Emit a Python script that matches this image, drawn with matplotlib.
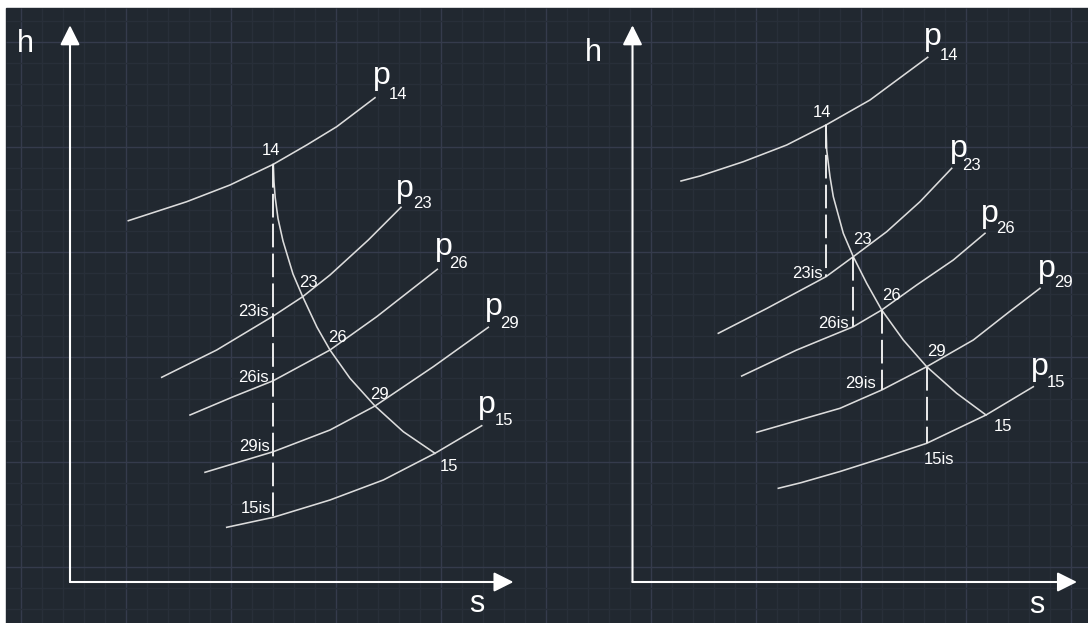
import matplotlib.pyplot as plt
import numpy as np
from matplotlib.patches import Rectangle

plt.rcParams['lines.scale_dashes'] = False

isobars = ['14', '23', '26', '29', '15']

# left diagram: one isentropic drop 14 -> 15is
L_p14_s = [58.3, 116.7, 160, 203.3, 236.7, 266.7, 305]
L_p14_h = [361.3, 380.3, 397, 417.7, 437, 455.3, 484.3]
L_p23_s = [91.7, 146.7, 203.3, 232.7, 260, 298.3, 331]
L_p23_h = [204.7, 232, 266, 285.3, 307, 342, 374.7]
L_p26_s = [120, 163.3, 203.3, 260, 306.7, 367.3]
L_p26_h = [167, 185.3, 201.3, 232, 265.3, 312.7]
L_p29_s = [135, 203.3, 260, 305, 363.3, 418.3]
L_p29_h = [109.7, 130.3, 152, 176, 215.3, 254.7]
L_p15_s = [156.7, 203.3, 260, 313.3, 365, 411.7]
L_p15_h = [54.7, 64.7, 82, 102, 128.7, 156.3]
L_proc_s = [203.3, 204, 205.2, 208, 213, 223, 232.7, 247, 260, 280, 305, 333.3, 365]
L_proc_h = [417.7, 400, 384.5, 363.5, 341, 308, 285.3, 254.8, 232, 203.7, 176, 150.3, 128.7]
L_dash_s = [203.3]
L_dash_top = [417.7]
L_dash_bot = [64.7]

# right diagram: stage by stage
R_p14_s = [48.5, 67.5, 110.8, 154.2, 193.5, 237.5, 295.2]
R_p14_h = [401, 406, 420.3, 437, 457, 482, 524.7]
R_p23_s = [85.8, 134.2, 193.5, 220.8, 254.2, 287.5, 319.2]
R_p23_h = [248.7, 273.5, 305.3, 325.3, 350.3, 380.3, 413.7]
R_p26_s = [109.2, 164.2, 220.8, 249.2, 284.2, 320.8, 352.5]
R_p26_h = [206, 232, 255.3, 272, 297, 322, 348.7]
R_p29_s = [124.2, 207.5, 249.2, 294.2, 340.8, 376.5, 407.5]
R_p29_h = [149.7, 173.7, 192, 215.3, 242, 270, 293.7]
R_p15_s = [145.8, 168.5, 207.5, 250, 294.2, 353.5, 400.8]
R_p15_h = [93.7, 99.3, 110.5, 124, 138.7, 167, 195.3]
R_proc_s = [193.5, 194.2, 197.5, 200.8, 210.8, 220.8, 234.2, 249.2, 270.8, 294.2, 324.2, 353.5]
R_proc_h = [457, 432, 405.3, 385.3, 348.7, 325.3, 298.7, 272, 242, 215.3, 188.7, 167]
R_dash_s = [193.5, 220.8, 249.2, 294.2]
R_dash_top = [457, 325.3, 272, 215.3]
R_dash_bot = [305.3, 255.3, 192, 138.7]

# point labels
pt_text = ['14', '23', '26', '29', '15', '23is', '26is', '29is', '15is']
L_pt_s = [201, 229, 258, 300, 370, 199, 199, 200, 201]
L_pt_h = [427, 295.3, 240.3, 182.7, 111.3, 266, 200.3, 131.3, 69.3]
L_pt_ha = ['center', 'left', 'left', 'left', 'left', 'right', 'right', 'right', 'right']
R_pt_s = [189.5, 220.8, 249.2, 294.2, 360.8, 190.2, 216.5, 243.5, 291.5]
R_pt_h = [465.3, 338, 282, 226, 151.3, 303.7, 253.7, 193.7, 118]
R_pt_ha = ['center', 'left', 'left', 'left', 'left', 'right', 'right', 'right', 'left']

# isobar labels p + subscript
L_p_s = [303, 326, 365, 414.7, 408]
L_p_h = [498.4, 385.4, 327.4, 267, 168.7]
L_sub_s = [319, 343, 379, 430, 424.5]
L_sub_h = [483, 374, 314, 253.7, 157]
R_p_s = [291.5, 317.2, 348.8, 405.5, 398.8]
R_p_h = [537.4, 425.4, 360.4, 305.4, 207]
R_sub_s = [307, 330, 364, 422, 414]
R_sub_h = [522, 412, 349.3, 295, 194.7]

# axes arrows and their letters
s_axis_len = [443.5, 444.5]
h_axis_len = [556.7, 556.7]
h_lab_pos = [(-45, 538), (-39.5, 529)]
s_lab_pos = [(407, -22), (404.5, -23)]
origin_px = [70, 632.5]

W, H = 1088, 623
y0 = 582
bg = '#212830'
line_c = '#dcdcdc'
font = 'Liberation Sans'

fig = plt.figure(figsize=(W / 100, H / 100), dpi=100, facecolor='white')

# CAD style background with grid
axb = fig.add_axes([0, 0, 1, 1])
axb.set_xlim(0, W)
axb.set_ylim(H, 0)
axb.axis('off')
axb.add_patch(Rectangle((6, 8), W - 6, H - 8, color=bg, zorder=0))
gx = np.arange(20.7, W, 21)
gy = np.arange(20.7, H, 21)
for i, x in enumerate(gx):
    axb.vlines(x, 8, H, color='#353b4c' if i % 5 == 0 else '#282f39', lw=1, zorder=1)
for i, y in enumerate(gy):
    axb.hlines(y, 6, W, color='#353b4c' if i % 5 == 1 else '#282f39', lw=1, zorder=1)

left = dict(curves=[(L_p14_s, L_p14_h), (L_p23_s, L_p23_h), (L_p26_s, L_p26_h),
                    (L_p29_s, L_p29_h), (L_p15_s, L_p15_h)],
            proc=(L_proc_s, L_proc_h), dash=(L_dash_s, L_dash_top, L_dash_bot),
            pts=(L_pt_s, L_pt_h, L_pt_ha), plab=(L_p_s, L_p_h, L_sub_s, L_sub_h))
right = dict(curves=[(R_p14_s, R_p14_h), (R_p23_s, R_p23_h), (R_p26_s, R_p26_h),
                     (R_p29_s, R_p29_h), (R_p15_s, R_p15_h)],
             proc=(R_proc_s, R_proc_h), dash=(R_dash_s, R_dash_top, R_dash_bot),
             pts=(R_pt_s, R_pt_h, R_pt_ha), plab=(R_p_s, R_p_h, R_sub_s, R_sub_h))

for k, panel in enumerate([left, right]):
    ax = fig.add_axes([0, 0, 1, 1])
    ax.patch.set_alpha(0)
    ax.set_xlim(-origin_px[k], W - origin_px[k])
    ax.set_ylim(y0 - H, y0)
    ax.axis('off')

    arrow = dict(arrowstyle='-|>,head_length=0.4,head_width=0.2', mutation_scale=30,
                 color='white', lw=1.5, shrinkA=0, shrinkB=0)
    ax.annotate('', xy=(0, h_axis_len[k]), xytext=(0, 0), arrowprops=arrow)
    ax.annotate('', xy=(s_axis_len[k], 0), xytext=(0, 0), arrowprops=arrow)
    ax.text(*h_lab_pos[k], 'h', color='white', fontsize=22, family=font,
            ha='center', va='center')
    ax.text(*s_lab_pos[k], 's', color='white', fontsize=22, family=font,
            ha='center', va='center')

    for cs, ch in panel['curves']:
        ax.plot(cs, ch, color=line_c, lw=1.15, solid_joinstyle='round')
    ax.plot(*panel['proc'], color=line_c, lw=1.15, solid_joinstyle='round')
    ds, dt, db = panel['dash']
    for s, t, b in zip(ds, dt, db):
        ax.plot([s, s], [t, b], color='#ececec', lw=1.4, dashes=(17, 4.5))

    ps, ph, pha = panel['pts']
    for txt, s, h, ha in zip(pt_text, ps, ph, pha):
        ax.text(s, h, txt, color='white', fontsize=12, family=font,
                ha=ha, va='baseline')
    p_s, p_h, sub_s, sub_h = panel['plab']
    for name, a, b, c, d in zip(isobars, p_s, p_h, sub_s, sub_h):
        ax.text(a, b, 'p', color='white', fontsize=23, family=font,
                ha='left', va='baseline')
        ax.text(c, d, name, color='white', fontsize=12, family=font,
                ha='left', va='baseline')

fig.savefig('out.png', dpi=100, facecolor='white')
